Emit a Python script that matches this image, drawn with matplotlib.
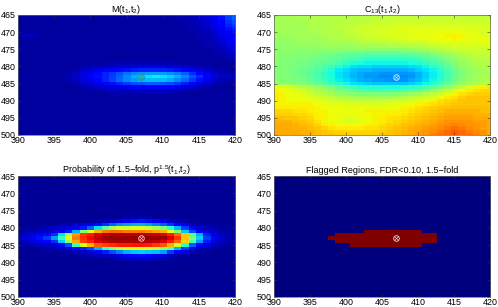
import numpy as np
import matplotlib
matplotlib.use("Agg")
import matplotlib.pyplot as plt

plt.rcParams['font.family'] = ['Liberation Sans', 'DejaVu Sans']
plt.rcParams['mathtext.default'] = 'regular'

x_ticks = [390, 395, 400, 405, 410, 415, 420]
y_ticks = [465, 470, 475, 480, 485, 490, 495, 500]
peak_x = 407
peak_y = 483
background_m = 3
background_p = 2

# M(t1,t2), percent of colour scale, rows not listed stay at background
m_rows = {
465: [3,3,3,3,3,3,3,3,3,3,3,3,3,3,3,3,3,3,3,3,3,3,4,4,5,6,8,10,14,19,22],
466: [3,3,3,3,3,3,3,3,3,3,3,3,3,3,3,3,3,3,3,3,3,3,4,4,5,6,8,10,14,19,22],
467: [3,3,3,3,3,3,3,3,3,3,3,3,3,3,3,3,3,3,3,3,3,3,3,4,5,6,7,9,13,17,20],
468: [3,3,3,3,3,3,3,3,3,3,3,3,3,3,3,3,3,3,3,3,3,3,3,4,4,5,7,9,12,16,18],
469: [3,3,3,3,3,3,3,3,3,3,3,3,3,3,3,3,3,3,3,3,3,3,3,3,4,5,6,8,11,14,16],
470: [3,3,3,3,3,3,3,3,3,3,3,3,3,3,3,3,3,3,3,3,3,3,3,3,4,4,5,7,10,12,14],
471: [5,6,5,4,3,3,3,3,3,3,3,3,3,3,3,3,3,3,3,3,3,3,3,3,3,4,5,6,9,11,12],
472: [3,3,3,3,3,3,3,3,3,3,3,3,3,3,3,3,3,3,3,3,3,3,3,3,3,4,4,6,8,10,11],
473: [3,3,3,3,3,3,3,3,3,3,3,3,3,3,3,3,3,3,3,3,3,3,3,3,3,3,4,5,7,9,10],
474: [3,3,3,3,3,3,3,3,3,3,3,3,3,3,3,3,3,3,3,3,3,3,3,3,3,3,4,5,6,8,9],
475: [3,3,3,3,3,3,3,3,3,3,3,3,3,3,3,3,3,3,3,3,3,3,3,3,3,3,3,4,5,7,8],
476: [3,3,3,3,3,3,3,3,3,3,3,3,3,3,3,3,3,3,3,3,3,3,3,3,3,3,3,4,4,6,7],
477: [3,3,3,3,3,3,3,3,3,3,3,3,3,3,3,3,3,3,3,3,3,3,3,3,3,3,3,3,4,5,6],
478: [3,3,3,3,3,3,3,3,3,3,3,3,3,3,3,3,3,3,3,3,3,3,3,3,3,3,3,3,3,4,4],
479: [3,3,3,3,3,3,3,3,3,3,3,3,4,4,4,4,5,5,5,5,5,4,4,3,3,3,3,3,3,3,3],
480: [3,3,3,3,3,3,3,3,3,4,4,5,6,6,7,7,8,8,8,8,8,7,7,6,5,4,4,3,3,3,3],
481: [3,3,3,3,3,3,3,3,4,6,7,9,10,12,13,14,15,16,16,16,16,15,14,12,10,8,6,5,4,3,3],
482: [3,3,3,3,3,3,3,4,6,8,10,13,16,18,21,24,26,27,28,28,28,27,25,22,17,13,10,7,5,4,4],
483: [3,3,3,3,3,3,3,5,7,9,11,14,16,18,22,26,30,33,35,36,35,33,30,26,21,17,12,9,7,7,6],
484: [3,3,3,3,3,3,3,4,6,8,10,13,16,19,23,26,28,30,31,31,31,29,26,23,18,14,10,7,5,4,4],
485: [3,3,3,3,3,3,3,3,4,6,8,10,12,14,16,18,20,21,22,22,21,20,18,15,12,9,7,5,4,3,3],
486: [3,3,3,3,3,3,3,3,3,4,5,6,7,8,9,10,11,12,12,12,12,11,10,8,7,5,4,3,3,3,3],
487: [3,3,3,3,3,3,3,3,3,3,4,4,5,5,5,5,6,6,6,6,6,5,5,4,4,3,3,3,3,3,3],
488: [3,3,3,3,3,3,3,3,3,3,3,3,3,4,4,4,4,4,4,4,4,4,3,3,3,3,3,3,3,3,3],
}

# C13(t1,t2), percent of colour scale, one row per t2
c13_values = [
[55,55,55,56,56,56,56,56,57,57,57,57,57,57,58,58,58,58,58,58,58,58,58,58,58,58,58,58,58,58,58],
[55,55,55,55,56,56,56,56,57,57,57,58,58,58,58,58,59,59,59,59,59,59,59,59,59,59,59,59,59,59,59],
[55,55,55,55,55,56,56,56,57,57,58,58,58,58,59,59,59,60,60,60,60,60,60,60,60,60,60,60,60,60,60],
[55,55,55,55,55,56,56,57,57,58,58,58,59,59,60,60,60,61,61,61,61,61,61,61,61,61,61,61,61,61,61],
[55,55,55,55,55,56,56,57,57,58,58,59,60,60,60,61,61,62,62,62,62,62,62,62,62,62,62,62,62,61,61],
[54,55,55,55,55,55,56,56,57,57,58,59,60,60,61,61,62,62,62,63,63,63,63,63,63,63,63,62,62,61,61],
[54,54,54,54,55,55,55,56,56,57,58,58,59,60,60,61,61,62,62,62,63,63,64,64,65,65,65,63,63,62,62],
[53,53,53,54,54,54,55,55,56,56,57,57,58,59,59,60,60,61,61,62,62,62,63,64,64,65,64,63,63,63,62],
[53,53,53,53,54,54,54,54,55,55,55,56,56,57,57,57,58,58,59,59,60,60,61,62,62,62,62,62,62,62,62],
[52,52,52,53,53,53,53,54,54,54,54,54,55,55,55,55,56,56,56,57,57,58,59,60,60,61,61,61,61,61,61],
[52,52,52,52,52,52,52,52,52,52,52,52,52,52,52,52,52,52,53,53,54,55,56,57,58,59,59,60,60,60,60],
[52,52,52,51,51,51,51,50,50,50,49,49,49,48,48,48,48,48,49,49,50,51,53,54,55,57,58,58,59,59,59],
[52,51,51,51,50,50,49,49,48,47,46,45,45,44,44,44,44,44,44,45,46,47,49,51,53,54,56,57,58,58,58],
[52,51,51,50,50,49,49,48,47,46,44,43,42,41,40,40,40,40,41,41,42,44,46,48,50,52,54,56,57,57,57],
[52,51,50,50,49,48,47,46,45,43,41,39,38,37,37,37,37,37,37,38,39,41,43,45,48,51,53,55,56,57,57],
[52,51,50,50,49,48,46,44,42,39,37,35,34,34,33,33,33,33,33,34,35,37,40,43,46,49,52,54,55,56,56],
[51,51,50,49,48,47,45,43,39,36,34,32,31,31,30,30,30,30,30,31,33,35,37,40,44,48,51,53,54,55,56],
[51,51,50,49,48,46,44,41,38,35,33,31,29,28,28,27,27,27,27,28,30,33,36,39,43,47,50,53,54,55,55],
[51,51,50,49,48,46,44,41,38,35,33,30,29,27,27,26,26,26,26,27,30,33,36,39,43,47,50,53,54,55,55],
[52,51,51,50,49,47,45,42,39,36,34,32,30,29,28,28,27,27,27,29,31,34,37,40,44,48,51,53,55,56,56],
[54,53,52,51,50,49,47,45,42,40,37,35,34,33,32,32,32,32,32,33,35,37,40,43,47,50,53,55,56,57,58],
[64,63,62,60,58,56,54,52,50,47,45,43,41,40,39,39,39,39,40,41,42,44,47,50,53,56,59,62,65,66,67],
[65,64,63,62,60,58,56,54,52,50,48,47,46,45,45,45,45,45,46,47,48,50,52,55,58,61,64,66,67,68,68],
[66,65,64,63,62,60,58,57,55,53,52,51,50,50,50,50,50,51,52,53,54,56,58,60,62,65,67,68,69,69,69],
[66,65,64,63,63,62,61,59,58,57,56,55,55,55,55,55,55,56,57,58,59,60,62,64,66,67,69,70,70,70,70],
[65,65,64,64,64,63,62,62,61,60,59,59,58,58,58,59,59,60,60,61,62,64,65,67,68,69,70,70,70,70,70],
[65,65,65,65,65,65,64,63,62,62,61,61,61,61,61,61,62,62,63,64,65,66,67,68,69,70,70,70,70,70,70],
[66,66,66,66,66,66,65,64,64,64,63,63,63,63,63,63,64,64,65,66,67,68,69,70,70,71,71,71,71,71,70],
[68,68,68,67,67,66,65,65,64,64,64,64,64,65,65,65,65,65,66,67,68,69,70,71,72,72,72,72,72,71,71],
[69,69,69,68,68,67,66,65,64,63,63,63,63,64,65,65,66,66,67,68,69,70,71,72,73,73,73,73,72,72,72],
[71,71,70,70,69,68,66,65,64,63,62,62,63,64,65,66,67,67,68,69,70,71,72,73,74,74,74,74,73,73,72],
[72,72,72,71,70,69,67,65,64,63,62,62,63,64,65,66,67,68,69,70,71,72,73,74,75,75,75,75,74,74,73],
[73,73,73,72,71,70,68,66,65,64,64,64,64,65,66,67,68,69,70,71,72,73,74,75,76,77,76,75,75,74,73],
[73,73,73,72,72,71,70,68,67,66,66,66,66,67,67,68,69,70,71,72,73,74,75,76,78,79,78,76,75,74,73],
[73,73,73,73,72,72,71,70,69,69,68,68,68,68,69,69,70,71,72,73,74,75,76,78,80,81,80,78,76,75,73],
[73,73,73,73,72,72,71,70,70,69,69,69,69,69,69,70,70,71,72,73,74,75,77,79,80,81,80,79,77,75,73],
]

# probability of 1.5-fold, percent of colour scale, rows not listed stay at background
p_rows = {
471: [3,3,3,3,3,3,2,2,2,2,2,2,2,2,2,2,2,2,2,2,2,2,2,2,2,2,2,2,2,2,2],
477: [2,2,2,2,2,2,2,2,2,2,2,2,2,2,2,4,4,4,4,2,2,2,2,2,2,2,2,2,2,2,2],
478: [2,2,2,2,2,2,2,2,2,2,3,4,5,7,9,12,14,15,14,12,10,7,5,4,3,2,2,2,2,2,2],
479: [2,2,2,2,3,3,4,5,6,8,10,13,17,22,26,28,30,30,28,25,22,17,13,9,6,4,3,3,2,2,2],
480: [3,3,3,4,5,6,7,8,10,15,22,35,45,55,60,60,62,62,60,55,50,40,30,18,10,7,5,4,3,3,2],
481: [3,4,5,6,7,8,10,15,30,50,62,72,78,80,80,78,78,78,76,74,72,62,50,32,20,12,8,6,4,3,3],
482: [4,6,8,10,13,17,35,55,75,85,88,92,94,95,95,95,95,95,94,93,91,88,80,70,45,30,15,8,6,4,3],
483: [5,8,10,14,18,28,42,62,78,86,90,94,97,98,98,98,98,98,98,98,98,92,85,70,50,33,18,10,7,4,3],
484: [4,6,8,10,13,17,33,52,73,84,88,92,94,96,96,96,96,96,95,94,92,88,80,68,44,28,15,8,6,4,3],
485: [3,3,4,5,6,7,10,20,42,62,72,82,84,86,88,88,89,89,88,85,82,72,60,40,22,12,8,5,4,3,2],
486: [2,3,3,3,4,5,6,8,12,16,20,30,40,50,58,62,64,64,63,58,52,45,30,18,10,6,4,3,3,2,2],
487: [2,2,2,2,3,3,3,4,5,6,8,10,15,20,25,30,32,33,32,31,28,18,12,8,5,3,3,2,2,2,2],
488: [2,2,2,2,2,2,2,3,3,4,4,5,6,7,8,12,13,14,12,10,8,6,4,3,2,2,2,2,2,2,2],
489: [2,2,2,2,2,2,2,2,2,2,2,2,2,3,4,5,6,6,6,5,4,3,2,2,2,2,2,2,2,2,2],
}

# flagged regions: t2 row and the t1 span that is flagged
flag_rows = [481, 482, 483, 484, 485]
flag_start = [403, 399, 398, 399, 401]
flag_end = [410, 412, 412, 412, 410]

t1 = np.arange(390, 421)
t2 = np.arange(465, 501)

m_grid = np.full((len(t2), len(t1)), background_m, dtype=float)
for row in m_rows:
    m_grid[row - 465] = m_rows[row]

p_grid = np.full((len(t2), len(t1)), background_p, dtype=float)
for row in p_rows:
    p_grid[row - 465] = p_rows[row]

flag_grid = np.zeros((len(t2), len(t1)))
for i in range(len(flag_rows)):
    flag_grid[flag_rows[i] - 465, flag_start[i] - 390:flag_end[i] - 390 + 1] = 100

grids = [m_grid, np.array(c13_values, dtype=float), p_grid, flag_grid]
titles = [r'M(t$_1$,t$_2$)', r'C$_{13}$(t$_1$,t$_2$)',
          r'Probability of 1.5−fold, p$^{1.5}$(t$_1$,t$_2$)',
          'Flagged Regions, FDR<0.10, 1.5−fold']
marker_colors = ['#2f9080', '#d8f0f8', '#f4d8d8', '#f0e0e0']
# left, top, right, bottom of each panel in pixels
panel_boxes = [(18, 15, 235, 135), (274, 15, 490, 135), (18, 176, 235, 297), (274, 176, 490, 297)]

W = 498
H = 307
fig = plt.figure(figsize=(W / 100, H / 100), dpi=100)

for i in range(4):
    l, t, r, b = panel_boxes[i]
    ax = fig.add_axes([l / W, 1 - b / H, (r - l) / W, (b - t) / H])
    ax.imshow(grids[i], cmap='jet', vmin=0, vmax=100, aspect='auto', interpolation='nearest',
              extent=[389.5, 420.5, 500.5, 464.5])
    ax.set_xlim(390, 420)
    ax.set_ylim(500, 465)
    ax.set_xticks(x_ticks)
    ax.set_yticks(y_ticks)
    ax.tick_params(direction='in', length=2, width=0.4, labelsize=6.4, color='#333333', top=True, right=True)
    ax.tick_params(axis='x', pad=1)
    ax.tick_params(axis='y', pad=1.5)
    for s in ax.spines.values():
        s.set_linewidth(0.5)
        s.set_color('#666666')
    ax.set_title(titles[i], fontsize=6.5, pad=2.5)
    ax.plot([peak_x], [peak_y], 'o', mfc='none', mec=marker_colors[i], ms=4, mew=0.6)
    ax.plot([peak_x], [peak_y], 'x', color=marker_colors[i], ms=2.5, mew=0.4)

fig.savefig('out.png', dpi=100)
